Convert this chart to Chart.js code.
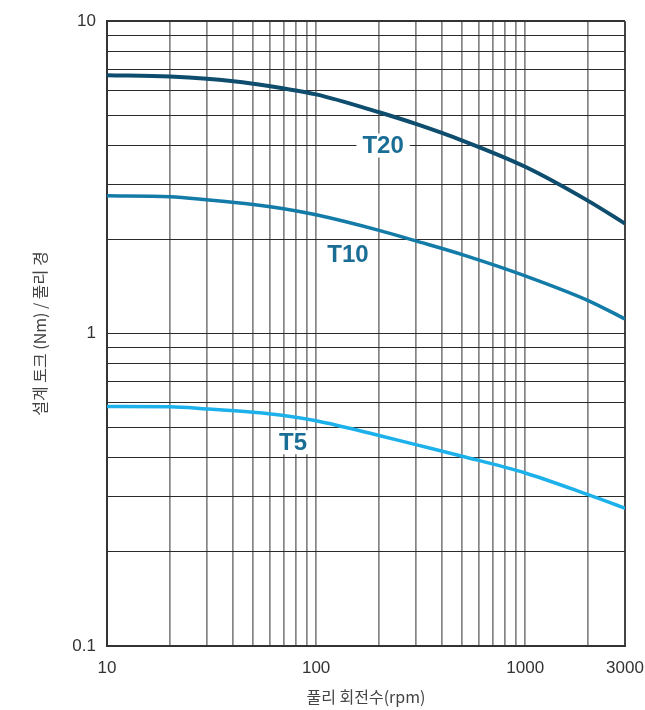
<!DOCTYPE html>
<html>
<head>
<meta charset="utf-8">
<script src="https://cdn.jsdelivr.net/npm/chart.js@4"></script>
<style>
  html, body { margin: 0; padding: 0; background: #fff; }
  canvas { display: block; }
</style>
</head>
<body>
<canvas id="torqueChart" width="645" height="710"></canvas>
<script>
// rpm values where the curves were read
const rpm = [10, 20, 30, 50, 70, 100, 200, 300, 500, 1000, 2000, 3000];

// design torque (Nm) per pulley diameter
const t20 = [6.72, 6.65, 6.54, 6.31, 6.09, 5.83, 5.11, 4.69, 4.15, 3.42, 2.66, 2.25];
const t10 = [2.76, 2.74, 2.68, 2.59, 2.51, 2.40, 2.14, 1.98, 1.79, 1.53, 1.276, 1.114];
const t5  = [0.584, 0.583, 0.574, 0.560, 0.547, 0.526, 0.472, 0.441, 0.405, 0.358, 0.305, 0.276];

// grid / tick values
const xTicks = [10, 20, 30, 40, 50, 60, 70, 80, 90, 100, 200, 300, 400, 500, 600, 700, 800, 900, 1000, 2000, 3000];
const xLabels = [10, 100, 1000, 3000];
const yTicks = [0.1, 0.2, 0.3, 0.4, 0.5, 0.6, 0.7, 0.8, 0.9, 1, 2, 3, 4, 5, 6, 7, 8, 9, 10];
const yLabels = [0.1, 1, 10];

// curve labels: [text, rpm, torque]
const curveLabels = [
    ["T20", 209, 4.0],
    ["T10", 142, 1.79],
    ["T5", 77.6, 0.449]
];

function toPoints(vals){
    return rpm.map((r, i) => ({x: r, y: vals[i]}));
}

const labelPlugin = {
    id: "curveLabels",
    afterDatasetsDraw(chart){
        const ctx = chart.ctx;
        const xs = chart.scales.x, ys = chart.scales.y;
        ctx.save();
        ctx.font = "bold 24px 'Liberation Sans', Arial, sans-serif";
        ctx.textAlign = "center";
        ctx.textBaseline = "middle";
        curveLabels.forEach(l => {
            const px = xs.getPixelForValue(l[1]);
            const py = ys.getPixelForValue(l[2]);
            const w = ctx.measureText(l[0]).width;
            ctx.fillStyle = "#fff";
            ctx.fillRect(px - w / 2 - 6, py - 12, w + 12, 24);
            ctx.fillStyle = "#1a6d94";
            ctx.fillText(l[0], px, py + 1);
        });
        ctx.restore();
    }
};

const tickFont = { family: "'Liberation Sans', Arial, sans-serif", size: 17 };
const titleFont = { family: "'Noto Sans CJK KR', sans-serif", size: 16 };

new Chart(document.getElementById("torqueChart"), {
    type: "line",
    data: {
        datasets: [
            { label: "T20", data: toPoints(t20), borderColor: "#0e4d6e", borderWidth: 4 },
            { label: "T10", data: toPoints(t10), borderColor: "#137ba8", borderWidth: 3.5 },
            { label: "T5", data: toPoints(t5), borderColor: "#1cb1ea", borderWidth: 3.5 }
        ]
    },
    options: {
        responsive: false,
        animation: false,
        devicePixelRatio: 1,
        layout: { padding: { left: 28, right: 20, top: 17, bottom: 0 } },
        elements: {
            point: { radius: 0 },
            line: { cubicInterpolationMode: "monotone", fill: false }
        },
        plugins: { legend: { display: false }, tooltip: { enabled: false } },
        scales: {
            x: {
                type: "logarithmic",
                min: 10,
                max: 3000,
                afterBuildTicks: s => { s.ticks = xTicks.map(v => ({ value: v })); },
                afterFit: s => { s.height = 64; s.paddingLeft = 0; s.paddingRight = 0; },
                ticks: {
                    autoSkip: false,
                    maxRotation: 0,
                    padding: 12,
                    color: "#333",
                    font: tickFont,
                    callback: v => xLabels.includes(v) ? String(v) : ""
                },
                grid: {
                    drawTicks: false,
                    color: c => (c.tick && (c.tick.value === 10 || c.tick.value === 3000)) ? "#444" : "#858585",
                    lineWidth: c => (c.tick && (c.tick.value === 10 || c.tick.value === 3000)) ? 2 : 1.7
                },
                border: { display: true, color: "#333", width: 2 },
                title: {
                    display: true,
                    text: "풀리 회전수(rpm)",
                    color: "#444",
                    font: titleFont,
                    padding: { top: 4, bottom: 3 }
                }
            },
            y: {
                type: "logarithmic",
                min: 0.1,
                max: 10,
                afterBuildTicks: s => { s.ticks = yTicks.map(v => ({ value: v })); },
                afterFit: s => { s.width = 79; },
                ticks: {
                    autoSkip: false,
                    padding: 11,
                    color: "#333",
                    font: tickFont,
                    callback: v => yLabels.includes(v) ? String(v) : ""
                },
                grid: {
                    drawTicks: false,
                    color: c => (c.tick && c.tick.value === 10) ? "#333" : "#2a2a2a",
                    lineWidth: c => (c.tick && c.tick.value === 10) ? 2 : 1.1
                },
                border: { display: true, color: "#333", width: 2 },
                title: {
                    display: true,
                    text: "설계 토크 (Nm) / 풀리 경",
                    color: "#444",
                    font: titleFont,
                    padding: { top: 2, bottom: 4 }
                }
            }
        }
    },
    plugins: [labelPlugin]
});
</script>
</body>
</html>
